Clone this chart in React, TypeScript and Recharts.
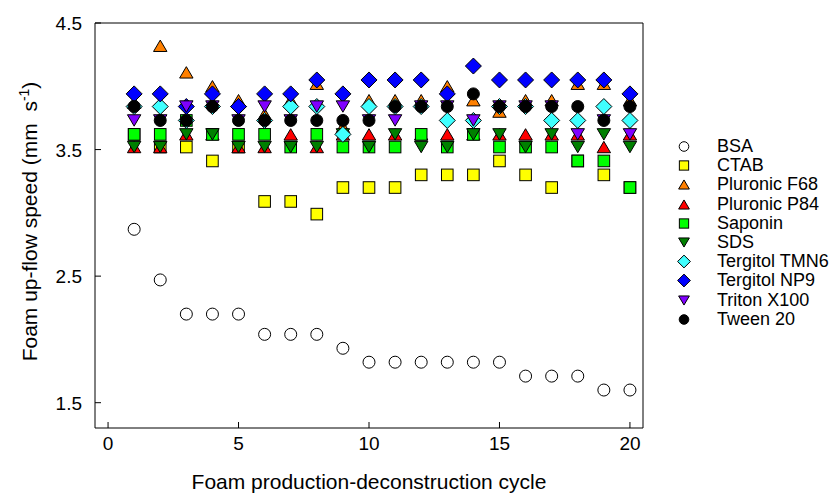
import React from 'react';
import { ScatterChart, Scatter, XAxis, YAxis, ReferenceArea } from 'recharts';

const cycles = [1, 2, 3, 4, 5, 6, 7, 8, 9, 10, 11, 12, 13, 14, 15, 16, 17, 18, 19, 20];
const bsa = [2.87, 2.47, 2.2, 2.2, 2.2, 2.04, 2.04, 2.04, 1.93, 1.82, 1.82, 1.82, 1.82, 1.82, 1.82, 1.71, 1.71, 1.71, 1.6, 1.6];
const ctab = [3.62, 3.52, 3.52, 3.41, 3.52, 3.09, 3.09, 2.99, 3.2, 3.2, 3.2, 3.3, 3.3, 3.3, 3.41, 3.3, 3.2, 3.41, 3.3, 3.2];
const f68 = [3.87, 4.32, 4.11, 4.0, 3.89, 3.78, 3.89, 4.02, 3.68, 3.89, 3.89, 3.89, 4.0, 3.89, 3.8, 3.89, 3.89, 4.02, 4.02, 3.89];
const p84 = [3.52, 3.52, 3.62, 3.62, 3.52, 3.52, 3.62, 3.52, 3.62, 3.62, 3.62, 3.62, 3.62, 3.62, 3.62, 3.62, 3.62, 3.62, 3.52, 3.62];
const saponin = [3.62, 3.62, 3.73, 3.62, 3.62, 3.62, 3.52, 3.62, 3.52, 3.52, 3.52, 3.62, 3.52, 3.62, 3.52, 3.52, 3.52, 3.41, 3.41, 3.2];
const sds = [3.52, 3.52, 3.62, 3.62, 3.52, 3.52, 3.52, 3.52, 3.62, 3.52, 3.62, 3.52, 3.52, 3.62, 3.62, 3.52, 3.62, 3.52, 3.62, 3.52];
const tmn6 = [3.84, 3.84, 3.73, 3.84, 3.84, 3.73, 3.84, 3.84, 3.62, 3.84, 3.84, 3.84, 3.73, 3.73, 3.84, 3.84, 3.73, 3.73, 3.84, 3.73];
const np9 = [3.94, 3.94, 3.84, 3.94, 3.84, 3.94, 3.94, 4.05, 3.94, 4.05, 4.05, 4.05, 3.94, 4.16, 4.05, 4.05, 4.05, 4.05, 4.05, 3.94];
const triton = [3.73, 3.73, 3.84, 3.84, 3.73, 3.84, 3.73, 3.84, 3.84, 3.73, 3.73, 3.84, 3.84, 3.73, 3.84, 3.84, 3.84, 3.62, 3.73, 3.62];
const tween = [3.84, 3.73, 3.73, 3.84, 3.73, 3.73, 3.73, 3.73, 3.73, 3.73, 3.84, 3.84, 3.84, 3.94, 3.84, 3.84, 3.84, 3.84, 3.73, 3.84];

const xTicks = [0, 5, 10, 15, 20];
const yTicks = [1.5, 2.5, 3.5, 4.5];

const FONT = '"Liberation Sans", Arial, sans-serif';

type Kind = 'circle' | 'square' | 'up' | 'down' | 'diamond';

const series: { name: string; values: number[]; color: string; kind: Kind }[] = [
  { name: 'BSA', values: bsa, color: '#FFFFFF', kind: 'circle' },
  { name: 'CTAB', values: ctab, color: '#FFFF00', kind: 'square' },
  { name: 'Pluronic F68', values: f68, color: '#FF8000', kind: 'up' },
  { name: 'Pluronic P84', values: p84, color: '#FF0000', kind: 'up' },
  { name: 'Saponin', values: saponin, color: '#00FF00', kind: 'square' },
  { name: 'SDS', values: sds, color: '#008000', kind: 'down' },
  { name: 'Tergitol TMN6', values: tmn6, color: '#40FFFF', kind: 'diamond' },
  { name: 'Tergitol NP9', values: np9, color: '#0000FF', kind: 'diamond' },
  { name: 'Triton X100', values: triton, color: '#8000FF', kind: 'down' },
  { name: 'Tween 20', values: tween, color: '#000000', kind: 'circle' },
];

function Marker({ kind, cx, cy, color, s }: { kind: Kind; cx: number; cy: number; color: string; s: number }) {
  const common = { fill: color, stroke: '#000', strokeWidth: 1 };
  if (kind === 'circle') return <circle cx={cx} cy={cy} r={6 * s} {...common} />;
  if (kind === 'square') {
    const h = 5.8 * s;
    return <rect x={cx - h} y={cy - h} width={2 * h} height={2 * h} {...common} />;
  }
  if (kind === 'diamond') {
    const h = 8 * s;
    return <polygon points={`${cx},${cy - h} ${cx + h},${cy} ${cx},${cy + h} ${cx - h},${cy}`} {...common} />;
  }
  const w = 6.7 * s;
  const hh = 5.7 * s;
  if (kind === 'up')
    return <polygon points={`${cx},${cy - hh} ${cx + w},${cy + hh} ${cx - w},${cy + hh}`} {...common} />;
  return <polygon points={`${cx},${cy + hh} ${cx + w},${cy - hh} ${cx - w},${cy - hh}`} {...common} />;
}

const XTick = (props: any) => {
  const { x, y, payload } = props;
  return (
    <g>
      <line x1={x} y1={y} x2={x} y2={y - 6} stroke="#000" strokeWidth={1} />
      <text x={x} y={y + 22} textAnchor="middle" fontSize={19} fontFamily={FONT} fill="#000">
        {payload.value}
      </text>
    </g>
  );
};

const YTick = (props: any) => {
  const { x, y, payload } = props;
  return (
    <g>
      <line x1={x} y1={y} x2={x + 6} y2={y} stroke="#000" strokeWidth={1} />
      <text x={x - 13} y={y + 7} textAnchor="end" fontSize={19} fontFamily={FONT} fill="#000">
        {payload.value.toFixed(1)}
      </text>
    </g>
  );
};

const LegendBox = () => (
  <div style={{ position: 'absolute', left: 674, top: 137, width: 162, fontFamily: FONT, fontSize: 18, color: '#000' }}>
    {series.map((s) => (
      <div key={s.name} style={{ display: 'flex', alignItems: 'center', height: 19.2, lineHeight: '19.2px', whiteSpace: 'nowrap' }}>
        <svg width={20} height={19} style={{ display: 'block' }}>
          <Marker kind={s.kind} cx={10} cy={9.5} color={s.color} s={0.8} />
        </svg>
        <span style={{ marginLeft: 23 }}>{s.name}</span>
      </div>
    ))}
  </div>
);

export default function App() {
  return (
    <div style={{ position: 'absolute', left: 0, top: 0, width: 836, height: 496, background: '#fff' }}>
      <ScatterChart width={836} height={496} margin={{ top: 23, right: 193, bottom: 0, left: 0 }}>
        <XAxis
          type="number"
          dataKey="x"
          domain={[-0.5, 20.5]}
          ticks={xTicks}
          allowDataOverflow
          axisLine={false}
          tickLine={false}
          tickSize={0}
          tickMargin={0}
          height={68}
          tick={<XTick />}
          interval={0}
          label={(p: any) => {
            const vb = p.viewBox;
            return (
              <text x={vb.x + vb.width / 2} y={vb.y + 61} textAnchor="middle" fontSize={21} fontFamily={FONT} fill="#000">
                Foam production-deconstruction cycle
              </text>
            );
          }}
        />
        <YAxis
          type="number"
          dataKey="y"
          domain={[1.3, 4.5]}
          ticks={yTicks}
          allowDataOverflow
          axisLine={false}
          tickLine={false}
          tickSize={0}
          tickMargin={0}
          width={95}
          tick={<YTick />}
          interval={0}
          label={(p: any) => {
            const vb = p.viewBox;
            const cy = vb.y + vb.height / 2 - 4;
            return (
              <text x={37} y={cy} transform={`rotate(-90, 37, ${cy})`} textAnchor="middle" fontSize={21} fontFamily={FONT} fill="#000">
                <tspan>Foam up-flow speed (mm{'\u00A0'} s</tspan>
                <tspan dy={-8} fontSize={14}>-1</tspan>
                <tspan dy={8}>)</tspan>
              </text>
            );
          }}
        />
        <ReferenceArea x1={-0.5} x2={20.5} y1={1.3} y2={4.5} fill="none" stroke="#000" strokeWidth={1} ifOverflow="visible" />
        {series.map((s) => (
          <Scatter
            key={s.name}
            name={s.name}
            data={cycles.map((c, i) => ({ x: c, y: s.values[i] }))}
            isAnimationActive={false}
            shape={(p: any) => <Marker kind={s.kind} cx={p.cx} cy={p.cy} color={s.color} s={1} />}
          />
        ))}
      </ScatterChart>
      <LegendBox />
    </div>
  );
}
